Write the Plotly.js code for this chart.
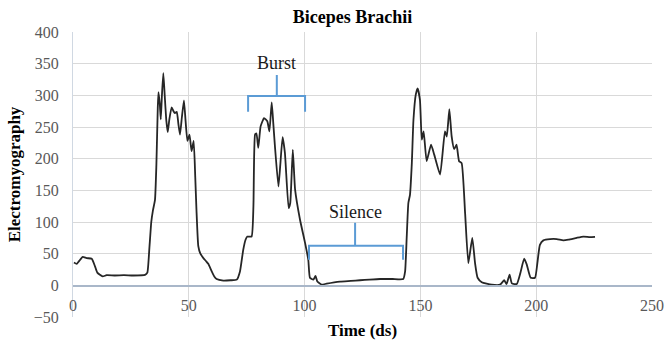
<!DOCTYPE html>
<html>
<head>
<meta charset="utf-8">
<script src="https://cdn.plot.ly/plotly-3.0.1.min.js"></script>
<style>html,body{margin:0;padding:0;background:#fff;}#chart{width:665px;height:340px;}</style>
</head>
<body>
<div id="chart"></div>
<script>
const timeDs = [0.4,1.6,3,4.2,5.9,8.1,9.5,10.5,12.8,14.5,18,22,26,31.1,32.1,33.0,33.8,34.5,35.4,36.0,36.6,36.9,37.5,37.9,38.4,39.0,39.6,40.3,40.9,41.6,42.6,43.4,44.0,44.8,45.5,46.2,47.0,47.9,48.6,49.4,50.3,51.2,52.1,52.8,53.3,54.1,55,56.3,57.5,58.4,59.9,61,62,64.9,68,70.7,72.1,73.5,74.5,75.3,77.1,77.9,78.6,79.2,80,81,82.5,83.9,84.8,85.8,86.5,87.2,88.7,89.5,90.5,91.5,93.1,93.8,94.9,95.9,98,100.2,101.6,102.3,103.8,104.7,105.5,107.4,109.5,115.3,120,123.9,128,132.6,138,142.6,143.4,144.1,144.8,145.5,146.3,147,148,148.8,149.8,150.6,151.4,152.7,154.6,156,158.5,160.6,161.4,162.5,163.5,164.6,165.6,166.7,167.8,169.3,170.7,172.4,173.6,174.7,176.5,180.8,184.4,186.2,187.2,188.5,189.5,191.6,193.2,194.8,195.9,197.6,199.5,200.5,201.6,203.1,206,208.9,211.7,213.9,217.5,220.4,223.2,225.4];
const emg = [36,34,40,45,43,42,30,20,14,16,15.5,16,15.5,16.5,20,60,100,118,135,190,280,305,285,262,300,335,300,260,242,262,281,275,272,274,255,238,265,292,260,228,238,212,228,170,120,62,50,43,38,34,22,14,10,7.5,8,9,22,56,72,77,77,125,238,240,217,251,264,259,243,289,255,219,156,190,234,209,122,130,214,151,104,67,40,12,9,15,6,1,2.7,6,7,8,9,10,10,10,22,77,130,143,193,261,301,311,293,230,243,196,222,206,175,243,235,278,235,215,222,196,193,114,35,75,35,12,5,1,1,8,2,17,3,2,20,42,33,12,12,35,64,71,73,73,71,72,75,77,76,76.5];

const xRange = [0, 250];
const yRange = [-50, 400];
const tickStep = 50;

const burstLabel = {text: 'Burst', x: 88, y: 351};
const silenceLabel = {text: 'Silence', x: 121.8, y: 116};
// bracket: [left x, middle x, right x, end y, bar y, tip y]
const burstBracket = [75.6, 88, 100.2, 274, 299, 332];
const silenceBracket = [101.9, 121.8, 142.5, 40.5, 62.6, 99];

function bracketPath(b) {
  const [x0, xm, x1, ye, yb, yt] = b;
  return `M ${x0},${ye} L ${x0},${yb} L ${x1},${yb} L ${x1},${ye} M ${xm},${yb} L ${xm},${yt}`;
}

const serif = "'Liberation Serif', 'Times New Roman', serif";
const axisPos = (0 - yRange[0]) / (yRange[1] - yRange[0]);

const trace = {
  x: timeDs, y: emg, type: 'scatter', mode: 'lines',
  line: {color: '#262626', width: 1.8, shape: 'spline', smoothing: 0.45},
  hoverinfo: 'skip'
};

const layout = {
  width: 665, height: 340,
  margin: {l: 73, r: 13, t: 32, b: 23},
  paper_bgcolor: '#fff', plot_bgcolor: '#fff',
  showlegend: false,
  font: {family: serif, color: '#000', size: 16},
  title: {text: '<b>Bicepes Brachii</b>', x: 0.53, xanchor: 'center', y: 0.95, yanchor: 'middle', font: {family: serif, size: 18, color: '#000'}},
  xaxis: {
    range: xRange, dtick: tickStep, tick0: 0,
    anchor: 'free', position: axisPos,
    showgrid: true, gridcolor: '#d9d9d9', gridwidth: 1,
    zeroline: false, showline: true, linecolor: '#a9b7c9', linewidth: 1.3,
    ticks: '', ticklabelstandoff: 5, tickfont: {family: serif, size: 16, color: '#595959'},
    title: {text: '<b>Time (ds)</b>', font: {family: serif, size: 17, color: '#000'}, standoff: 14}
  },
  yaxis: {
    range: yRange, dtick: tickStep, tick0: 0,
    showgrid: true, gridcolor: '#d9d9d9', gridwidth: 1,
    zeroline: false, showline: true, linecolor: '#d0d8e2', linewidth: 1,
    ticks: '', ticklabelstandoff: 10, tickfont: {family: serif, size: 16, color: '#595959'},
    title: {text: '<b>Electromyography</b>', font: {family: serif, size: 17, color: '#000'}, standoff: 8}
  },
  shapes: [burstBracket, silenceBracket].map(b => ({
    type: 'path', xref: 'x', yref: 'y', path: bracketPath(b),
    line: {color: '#5b9bd5', width: 2}
  })),
  annotations: [burstLabel, silenceLabel].map(a => ({
    x: a.x, y: a.y, xref: 'x', yref: 'y', text: a.text, showarrow: false,
    font: {family: serif, size: 18, color: '#1a1a1a'}
  }))
};

Plotly.newPlot('chart', [trace], layout, {staticPlot: true, displayModeBar: false});
</script>
</body>
</html>
